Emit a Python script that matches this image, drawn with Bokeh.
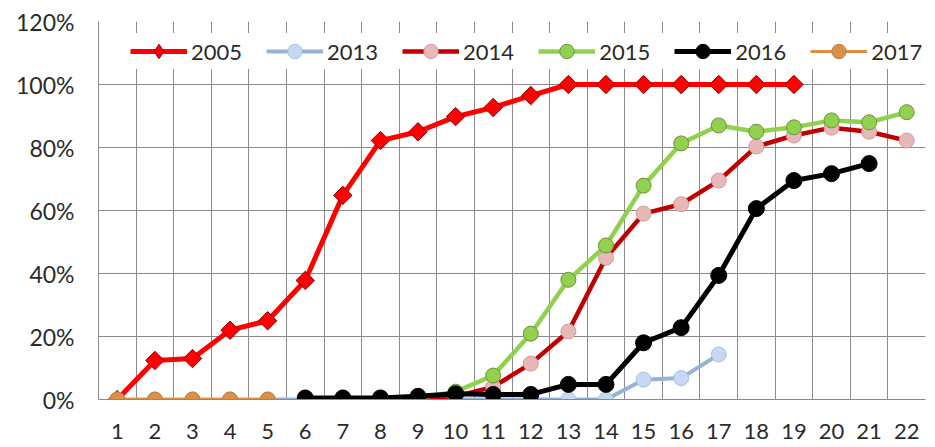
import math
from bokeh.plotting import figure
from bokeh.models import Range1d, FixedTicker, PrintfTickFormatter, Legend, LegendItem
from bokeh.embed import file_html
from bokeh.resources import INLINE

# ---- data (percent values) ----
weeks = list(range(1, 23))
y_ticks = [0, 20, 40, 60, 80, 100, 120]

x_2005 = list(range(1, 20))
y_2005 = [0, 12.4, 13, 22, 25, 37.8, 64.8, 82.2, 85, 89.8, 92.7, 96.5, 100, 100, 100, 100, 100, 100, 100]

x_2013 = list(range(1, 18))
y_2013 = [0, 0, 0, 0, 0, 0, 0, 0, 0, 0, 0, 0, 0, 0, 6.3, 6.8, 14.3]

x_2014 = list(range(6, 23))
y_2014 = [0, 0, 0, 0.5, 1, 4, 11.4, 21.6, 45, 59, 62, 69.5, 80.3, 83.8, 86.3, 85, 82.2]

x_2015 = list(range(6, 23))
y_2015 = [0, 0, 0, 0.5, 2.5, 7.6, 20.9, 38, 48.9, 67.9, 81.3, 87, 85, 86.4, 88.6, 88, 91.2]

x_2016 = list(range(6, 22))
y_2016 = [0.5, 0.5, 0.5, 1, 1.8, 1.6, 1.6, 4.8, 4.8, 18, 22.8, 39.4, 60.6, 69.5, 71.7, 74.9]

x_2017 = [1, 2, 3, 4, 5]
y_2017 = [0, 0, 0, 0, 0]

FONT = "Lato"
GRID = "#8a8a8a"
TXT = "#2b2b2b"

p = figure(width=935, height=447, output_backend="svg", toolbar_location=None,
           x_range=Range1d(0.5, 22.5), y_range=Range1d(0, 120),
           min_border_left=98, min_border_right=10, min_border_top=21, min_border_bottom=48)
p.outline_line_color = None
p.background_fill_color = "white"

# axes
p.xaxis.ticker = FixedTicker(ticks=weeks)
p.yaxis.ticker = FixedTicker(ticks=y_ticks)
p.yaxis.formatter = PrintfTickFormatter(format="%d%%")
for ax in (p.xaxis, p.yaxis):
    ax.major_tick_line_color = None
    ax.minor_tick_line_color = None
    ax.major_tick_out = 0
    ax.major_tick_in = 0
    ax.axis_line_color = GRID
    ax.axis_line_width = 1
    ax.major_label_text_font = FONT
    ax.major_label_text_font_size = "23px"
    ax.major_label_text_color = TXT
p.xaxis.major_label_text_font_size = "22px"
p.xaxis.major_label_standoff = 24
p.xaxis.major_label_text_line_height = 0.6
p.yaxis.major_label_standoff = 24

# grids
p.xgrid.ticker = FixedTicker(ticks=[w + 0.5 for w in weeks])
p.ygrid.ticker = FixedTicker(ticks=y_ticks)
p.xgrid.grid_line_color = GRID
p.ygrid.grid_line_color = GRID
p.xgrid.grid_line_width = 1
p.ygrid.grid_line_width = 1

items = []

def series(label, xs, ys, line_color, lw, marker, size, fill, outline, angle=0.0, legend_marker=None):
    lr = p.line(xs, ys, line_color=line_color, line_width=lw, line_join="round")
    sr = p.scatter(xs, ys, marker=marker, size=size, angle=angle,
                   fill_color=fill, line_color=outline, line_width=1)
    rs = [lr, sr]
    if legend_marker is not None:
        # legend proxy: a tiny mark on the first point (hidden below other marks)
        lm = p.scatter(xs[:1], ys[:1], marker=legend_marker, size=1,
                       fill_color=fill, line_color=outline, line_width=1)
        rs = [lr, lm]
    items.append(LegendItem(label=label, renderers=rs))

series("2005", x_2005, y_2005, "#ff0000", 5, "square", 13, "#ff0000", "#8b0000", math.pi / 4, "diamond")
series("2013", x_2013, y_2013, "#95b3d7", 4, "circle", 15, "#c6d9f1", "#a9c2e0")
series("2014", x_2014, y_2014, "#c00000", 4.5, "circle", 15, "#e6b9b8", "#d49a98")
series("2015", x_2015, y_2015, "#92d050", 4.5, "circle", 15, "#92d050", "#6f8f3a")
series("2016", x_2016, y_2016, "#000000", 5, "circle", 16, "#000000", "#000000")
series("2017", x_2017, y_2017, "#dc9046", 3, "circle", 15, "#d9914a", "#c07a36")

legend = Legend(items=items, orientation="horizontal", location=(32, 330),
                background_fill_color="white", background_fill_alpha=1.0,
                border_line_color=None, padding=4, margin=0,
                glyph_width=57, glyph_height=36, label_standoff=4, spacing=24,
                label_text_font=FONT, label_text_font_size="22px",
                label_text_color=TXT)
p.add_layout(legend)

open("out.html", "w").write(file_html(p, INLINE))
